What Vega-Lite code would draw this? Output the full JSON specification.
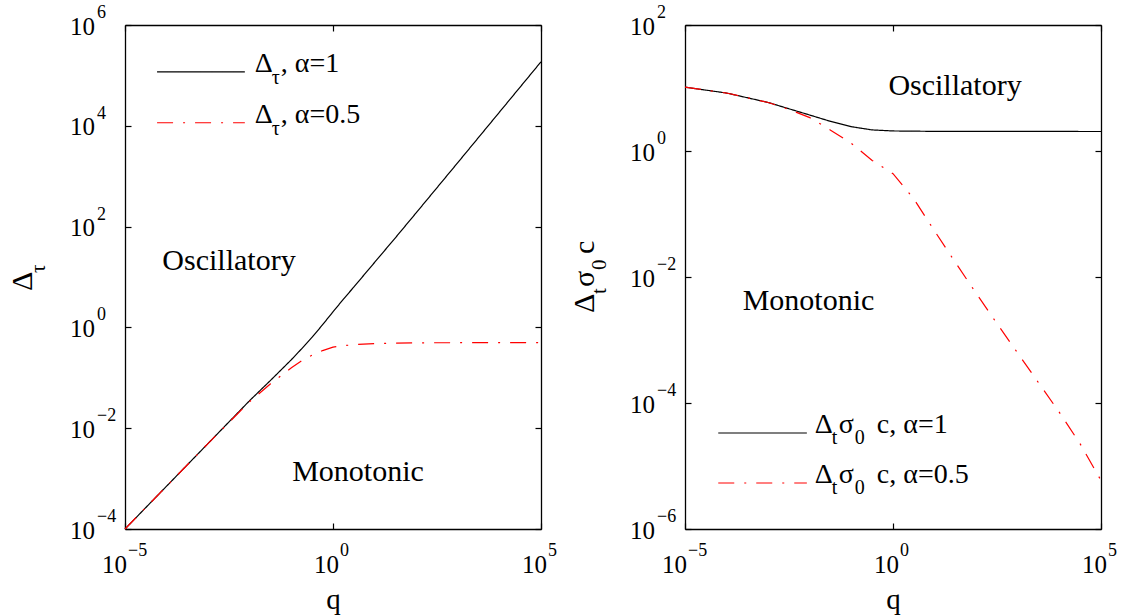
{
  "$schema": "https://vega.github.io/schema/vega-lite/v6.json",
  "background": "white",
  "padding": {"left": 8, "top": 4, "right": 5, "bottom": 0},
  "config": {
    "font": "Liberation Serif, Times New Roman, DejaVu Serif, serif",
    "view": {"stroke": null},
    "axis": {"grid": false, "domainColor": "black", "domainWidth": 1.3, "tickColor": "black", "tickWidth": 1.2, "tickSize": -6, "labels": false, "titleFont": "Liberation Serif, Times New Roman, DejaVu Serif, serif", "titleFontSize": 29, "titleFontWeight": "normal", "titleColor": "black"},
    "text": {"font": "Liberation Serif, Times New Roman, DejaVu Serif, serif", "color": "black"}
  },
  "datasets": {
    "L": [
      {"s": "a1", "q": 1e-5, "v": 1e-4}, {"s": "a1", "q": 1e-4, "v": 7.08e-4}, {"s": "a1", "q": 1e-3, "v": 5.01e-3}, {"s": "a1", "q": 1e-2, "v": 0.0355},
      {"s": "a1", "q": 0.0316, "v": 0.0891}, {"s": "a1", "q": 0.1, "v": 0.229}, {"s": "a1", "q": 0.178, "v": 0.38},
      {"s": "a1", "q": 0.316, "v": 0.64}, {"s": "a1", "q": 0.562, "v": 1.13}, {"s": "a1", "q": 1, "v": 2.04}, {"s": "a1", "q": 1.78, "v": 3.63},
      {"s": "a1", "q": 3.16, "v": 6.31}, {"s": "a1", "q": 10, "v": 19.5}, {"s": "a1", "q": 31.6, "v": 60}, {"s": "a1", "q": 100, "v": 188},
      {"s": "a1", "q": 1000, "v": 1862}, {"s": "a1", "q": 10000, "v": 18620}, {"s": "a1", "q": 100000, "v": 186200},
      {"s": "a05", "q": 1e-5, "v": 1e-4}, {"s": "a05", "q": 1e-4, "v": 7.08e-4}, {"s": "a05", "q": 1e-3, "v": 5.01e-3}, {"s": "a05", "q": 1e-2, "v": 0.0339},
      {"s": "a05", "q": 0.0316, "v": 0.0759}, {"s": "a05", "q": 0.0562, "v": 0.11}, {"s": "a05", "q": 0.1, "v": 0.158}, {"s": "a05", "q": 0.178, "v": 0.219},
      {"s": "a05", "q": 0.316, "v": 0.282}, {"s": "a05", "q": 0.562, "v": 0.347}, {"s": "a05", "q": 1, "v": 0.407}, {"s": "a05", "q": 3.16, "v": 0.457},
      {"s": "a05", "q": 10, "v": 0.479}, {"s": "a05", "q": 100, "v": 0.495}, {"s": "a05", "q": 100000, "v": 0.5}
    ],
    "LL": [
      {"s": "a1", "q": 5.9e-5, "v": 117000}, {"s": "a1", "q": 7.6e-3, "v": 117000},
      {"s": "a05", "q": 5.9e-5, "v": 11500}, {"s": "a05", "q": 7.6e-3, "v": 11500}
    ],
    "LT": [
      {"q": 7.6e-3, "v": 117000, "rest": ", α=1"},
      {"q": 7.6e-3, "v": 11500, "rest": ", α=0.5"}
    ],
    "LA": [
      {"q": 3.16e-3, "v": 14.0, "t": "Oscillatory"},
      {"q": 3.98, "v": 8.9e-4, "t": "Monotonic"}
    ],
    "LY": [{"q": 1e-5, "v": 10}],
    "LYL": [
      {"q": 1e-5, "v": 1e-4, "e": "−4"}, {"q": 1e-5, "v": 1e-2, "e": "−2"}, {"q": 1e-5, "v": 1, "e": "0"},
      {"q": 1e-5, "v": 100, "e": "2"}, {"q": 1e-5, "v": 1e4, "e": "4"}, {"q": 1e-5, "v": 1e6, "e": "6"}
    ],
    "LXN": [{"q": 1e-5, "v": 1e-4, "e": "−5"}],
    "LXP": [{"q": 1, "v": 1e-4, "e": "0"}, {"q": 1e5, "v": 1e-4, "e": "5"}],
    "R": [
      {"s": "a1", "q": 1e-5, "v": 10.3}, {"s": "a1", "q": 1e-4, "v": 8.32}, {"s": "a1", "q": 1e-3, "v": 5.89}, {"s": "a1", "q": 3.16e-3, "v": 4.68},
      {"s": "a1", "q": 1e-2, "v": 3.72}, {"s": "a1", "q": 3.16e-2, "v": 2.95}, {"s": "a1", "q": 0.1, "v": 2.43}, {"s": "a1", "q": 0.316, "v": 2.16},
      {"s": "a1", "q": 1, "v": 2.08}, {"s": "a1", "q": 10, "v": 2.05}, {"s": "a1", "q": 100000, "v": 2.04},
      {"s": "a05", "q": 1e-5, "v": 10.3}, {"s": "a05", "q": 1e-4, "v": 8.32}, {"s": "a05", "q": 1e-3, "v": 5.89}, {"s": "a05", "q": 3.16e-3, "v": 4.57},
      {"s": "a05", "q": 1e-2, "v": 3.39}, {"s": "a05", "q": 3.16e-2, "v": 2.14}, {"s": "a05", "q": 0.1, "v": 1.32}, {"s": "a05", "q": 0.316, "v": 0.708},
      {"s": "a05", "q": 1, "v": 0.437}, {"s": "a05", "q": 3.16, "v": 0.174}, {"s": "a05", "q": 10, "v": 0.0537}, {"s": "a05", "q": 31.6, "v": 0.017},
      {"s": "a05", "q": 100, "v": 0.0055}, {"s": "a05", "q": 316, "v": 0.00182}, {"s": "a05", "q": 1000, "v": 0.000617}, {"s": "a05", "q": 3162, "v": 0.000209},
      {"s": "a05", "q": 10000, "v": 7.08e-5}, {"s": "a05", "q": 31623, "v": 2.24e-5}, {"s": "a05", "q": 100000, "v": 5.9e-6}
    ],
    "RL": [
      {"s": "a1", "q": 6.3e-5, "v": 3.34e-5}, {"s": "a1", "q": 8.5e-3, "v": 3.34e-5},
      {"s": "a05", "q": 6.3e-5, "v": 5.37e-6}, {"s": "a05", "q": 8.5e-3, "v": 5.37e-6}
    ],
    "RT": [
      {"q": 8.5e-3, "v": 3.34e-5, "rest": "c, α=1"},
      {"q": 8.5e-3, "v": 5.37e-6, "rest": "c, α=0.5"}
    ],
    "RA": [
      {"q": 31, "v": 7.74, "t": "Oscillatory"},
      {"q": 9.3e-3, "v": 3.0e-3, "t": "Monotonic"}
    ],
    "RY": [{"q": 1e-5, "v": 0.01}],
    "RYL": [
      {"q": 1e-5, "v": 1e-6, "e": "−6"}, {"q": 1e-5, "v": 1e-4, "e": "−4"}, {"q": 1e-5, "v": 1e-2, "e": "−2"},
      {"q": 1e-5, "v": 1, "e": "0"}, {"q": 1e-5, "v": 100, "e": "2"}
    ],
    "RXN": [{"q": 1e-5, "v": 1e-6, "e": "−5"}],
    "RXP": [{"q": 1, "v": 1e-6, "e": "0"}, {"q": 1e5, "v": 1e-6, "e": "5"}]
  },
  "spacing": 144,
  "bounds": "flush",
  "hconcat": [
    {
      "width": 416,
      "height": 504,
      "encoding": {
        "x": {"field": "q", "type": "quantitative", "scale": {"type": "log", "domain": [1e-5, 1e5]}, "axis": null},
        "y": {"field": "v", "type": "quantitative", "scale": {"type": "log", "domain": [1e-4, 1e6]}, "axis": null}
      },
      "resolve": {"axis": {"x": "independent", "y": "independent"}},
      "layer": [
        {
          "data": {"name": "L"},
          "mark": {"type": "line", "strokeWidth": 1.2},
          "encoding": {
            "x": {"field": "q", "type": "quantitative", "scale": {"type": "log", "domain": [1e-5, 1e5]},
              "axis": {"orient": "bottom", "values": [1e-5, 1, 1e5], "title": "q", "titlePadding": 56}},
            "y": {"field": "v", "type": "quantitative", "scale": {"type": "log", "domain": [1e-4, 1e6]},
              "axis": {"orient": "left", "values": [1e-4, 1e-2, 1, 1e2, 1e4, 1e6], "title": null}},
            "color": {"field": "s", "type": "nominal", "scale": {"domain": ["a1", "a05"], "range": ["#000000", "#ff0000"]}, "legend": null},
            "strokeDash": {"field": "s", "type": "nominal", "scale": {"domain": ["a1", "a05"], "range": [[1, 0], [16, 10, 2, 10]]}, "legend": null}
          }
        },
        {
          "data": {"name": "LL"},
          "mark": {"type": "line", "strokeWidth": 1.2},
          "encoding": {
            "x": {"field": "q", "type": "quantitative", "scale": {"type": "log", "domain": [1e-5, 1e5]},
              "axis": {"orient": "top", "values": [1e-5, 1, 1e5], "title": null}},
            "y": {"field": "v", "type": "quantitative", "scale": {"type": "log", "domain": [1e-4, 1e6]},
              "axis": {"orient": "right", "values": [1e-4, 1e-2, 1, 1e2, 1e4, 1e6], "title": null}},
            "color": {"field": "s", "type": "nominal", "scale": {"domain": ["a1", "a05"], "range": ["#000000", "#ff0000"]}, "legend": null},
            "strokeDash": {"field": "s", "type": "nominal", "scale": {"domain": ["a1", "a05"], "range": [[1, 0], [16, 10, 2, 10]]}, "legend": null}
          }
        },
        {"data": {"name": "LYL"}, "mark": {"type": "text", "text": "10", "fontSize": 25, "align": "right", "baseline": "alphabetic", "dx": -30, "dy": 9.5}},
        {"data": {"name": "LYL"}, "mark": {"type": "text", "fontSize": 18, "align": "left", "baseline": "alphabetic", "dx": -28, "dy": -7}, "encoding": {"text": {"field": "e"}}},
        {"data": {"name": "LXN"}, "mark": {"type": "text", "text": "10", "fontSize": 25, "align": "right", "baseline": "alphabetic", "dx": 2, "dy": 44}},
        {"data": {"name": "LXN"}, "mark": {"type": "text", "fontSize": 18, "align": "left", "baseline": "alphabetic", "dx": 3, "dy": 27}, "encoding": {"text": {"field": "e"}}},
        {"data": {"name": "LXP"}, "mark": {"type": "text", "text": "10", "fontSize": 25, "align": "right", "baseline": "alphabetic", "dx": 6, "dy": 44}},
        {"data": {"name": "LXP"}, "mark": {"type": "text", "fontSize": 18, "align": "left", "baseline": "alphabetic", "dx": 7, "dy": 27}, "encoding": {"text": {"field": "e"}}},
        {"data": {"name": "LA"}, "mark": {"type": "text", "fontSize": 30, "align": "center", "baseline": "alphabetic"}, "encoding": {"text": {"field": "t"}}},
        {"data": {"name": "LT"}, "mark": {"type": "text", "text": "Δ", "fontSize": 28, "align": "left", "baseline": "alphabetic", "dx": 10}},
        {"data": {"name": "LT"}, "mark": {"type": "text", "text": "τ", "fontSize": 20, "align": "left", "baseline": "alphabetic", "dx": 27, "dy": 12}},
        {"data": {"name": "LT"}, "mark": {"type": "text", "fontSize": 28, "align": "left", "baseline": "alphabetic", "dx": 36}, "encoding": {"text": {"field": "rest"}}},
        {"data": {"name": "LY"}, "mark": {"type": "text", "text": "Δ", "fontSize": 30, "angle": 270, "align": "left", "baseline": "alphabetic", "dx": -14, "dy": -93}},
        {"data": {"name": "LY"}, "mark": {"type": "text", "text": "τ", "fontSize": 21, "angle": 270, "align": "left", "baseline": "alphabetic", "dx": 4, "dy": -80}}
      ]
    },
    {
      "width": 416,
      "height": 504,
      "encoding": {
        "x": {"field": "q", "type": "quantitative", "scale": {"type": "log", "domain": [1e-5, 1e5]}, "axis": null},
        "y": {"field": "v", "type": "quantitative", "scale": {"type": "log", "domain": [1e-6, 1e2]}, "axis": null}
      },
      "resolve": {"axis": {"x": "independent", "y": "independent"}},
      "layer": [
        {
          "data": {"name": "R"},
          "mark": {"type": "line", "strokeWidth": 1.2},
          "encoding": {
            "x": {"field": "q", "type": "quantitative", "scale": {"type": "log", "domain": [1e-5, 1e5]},
              "axis": {"orient": "bottom", "values": [1e-5, 1, 1e5], "title": "q", "titlePadding": 56}},
            "y": {"field": "v", "type": "quantitative", "scale": {"type": "log", "domain": [1e-6, 1e2]},
              "axis": {"orient": "left", "values": [1e-6, 1e-4, 1e-2, 1, 1e2], "title": null}},
            "color": {"field": "s", "type": "nominal", "scale": {"domain": ["a1", "a05"], "range": ["#000000", "#ff0000"]}, "legend": null},
            "strokeDash": {"field": "s", "type": "nominal", "scale": {"domain": ["a1", "a05"], "range": [[1, 0], [16, 10, 2, 10]]}, "legend": null}
          }
        },
        {
          "data": {"name": "RL"},
          "mark": {"type": "line", "strokeWidth": 1.2},
          "encoding": {
            "x": {"field": "q", "type": "quantitative", "scale": {"type": "log", "domain": [1e-5, 1e5]},
              "axis": {"orient": "top", "values": [1e-5, 1, 1e5], "title": null}},
            "y": {"field": "v", "type": "quantitative", "scale": {"type": "log", "domain": [1e-6, 1e2]},
              "axis": {"orient": "right", "values": [1e-6, 1e-4, 1e-2, 1, 1e2], "title": null}},
            "color": {"field": "s", "type": "nominal", "scale": {"domain": ["a1", "a05"], "range": ["#000000", "#ff0000"]}, "legend": null},
            "strokeDash": {"field": "s", "type": "nominal", "scale": {"domain": ["a1", "a05"], "range": [[1, 0], [16, 10, 2, 10]]}, "legend": null}
          }
        },
        {"data": {"name": "RYL"}, "mark": {"type": "text", "text": "10", "fontSize": 25, "align": "right", "baseline": "alphabetic", "dx": -30, "dy": 9.5}},
        {"data": {"name": "RYL"}, "mark": {"type": "text", "fontSize": 18, "align": "left", "baseline": "alphabetic", "dx": -28, "dy": -7}, "encoding": {"text": {"field": "e"}}},
        {"data": {"name": "RXN"}, "mark": {"type": "text", "text": "10", "fontSize": 25, "align": "right", "baseline": "alphabetic", "dx": 2, "dy": 44}},
        {"data": {"name": "RXN"}, "mark": {"type": "text", "fontSize": 18, "align": "left", "baseline": "alphabetic", "dx": 3, "dy": 27}, "encoding": {"text": {"field": "e"}}},
        {"data": {"name": "RXP"}, "mark": {"type": "text", "text": "10", "fontSize": 25, "align": "right", "baseline": "alphabetic", "dx": 6, "dy": 44}},
        {"data": {"name": "RXP"}, "mark": {"type": "text", "fontSize": 18, "align": "left", "baseline": "alphabetic", "dx": 7, "dy": 27}, "encoding": {"text": {"field": "e"}}},
        {"data": {"name": "RA"}, "mark": {"type": "text", "fontSize": 30, "align": "center", "baseline": "alphabetic"}, "encoding": {"text": {"field": "t"}}},
        {"data": {"name": "RT"}, "mark": {"type": "text", "text": "Δ", "fontSize": 28, "align": "left", "baseline": "alphabetic", "dx": 8}},
        {"data": {"name": "RT"}, "mark": {"type": "text", "text": "t", "fontSize": 20, "align": "left", "baseline": "alphabetic", "dx": 25, "dy": 11}},
        {"data": {"name": "RT"}, "mark": {"type": "text", "text": "σ", "fontSize": 28, "align": "left", "baseline": "alphabetic", "dx": 32}},
        {"data": {"name": "RT"}, "mark": {"type": "text", "text": "0", "fontSize": 20, "align": "left", "baseline": "alphabetic", "dx": 48, "dy": 11}},
        {"data": {"name": "RT"}, "mark": {"type": "text", "fontSize": 28, "align": "left", "baseline": "alphabetic", "dx": 70}, "encoding": {"text": {"field": "rest"}}},
        {"data": {"name": "RY"}, "mark": {"type": "text", "text": "Δ", "fontSize": 30, "angle": 270, "align": "left", "baseline": "alphabetic", "dx": -36, "dy": -91}},
        {"data": {"name": "RY"}, "mark": {"type": "text", "text": "t", "fontSize": 21, "angle": 270, "align": "left", "baseline": "alphabetic", "dx": -17, "dy": -79}},
        {"data": {"name": "RY"}, "mark": {"type": "text", "text": "σ", "fontSize": 30, "angle": 270, "align": "left", "baseline": "alphabetic", "dx": -10, "dy": -91}},
        {"data": {"name": "RY"}, "mark": {"type": "text", "text": "0", "fontSize": 21, "angle": 270, "align": "left", "baseline": "alphabetic", "dx": 7, "dy": -79}},
        {"data": {"name": "RY"}, "mark": {"type": "text", "text": "c", "fontSize": 30, "angle": 270, "align": "left", "baseline": "alphabetic", "dx": 23, "dy": -91}}
      ]
    }
  ]
}
